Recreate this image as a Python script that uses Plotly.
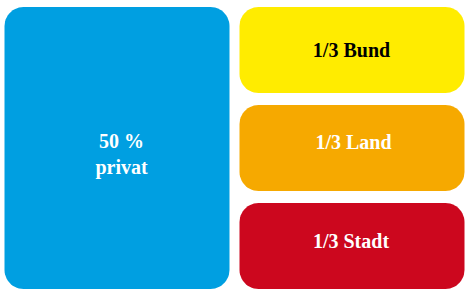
import numpy as np
import plotly.graph_objects as go

# ---- data ----
main_groups = ["privat", "öffentlich"]
main_shares = [50, 50]                      # percent of total (horizontal split)
public_parts = ["Bund", "Land", "Stadt"]
public_shares = [1 / 3, 1 / 3, 1 / 3]       # fractions of the public half (vertical split)
label_private = "50 %<br>privat"
labels_public = ["1/3 Bund", "1/3 Land", "1/3 Stadt"]

# ---- style ----
W, H = 468, 290
color_private = "#009FE1"
colors_public = ["#FFEC00", "#F6A900", "#CC071E"]
text_private = "#FFFFFF"
text_public = ["#000000", "#FFFFFF", "#FFFFFF"]
X_OFF, SX = -0.5, 4.7     # px offset, px per percent
Y_OFF, SY = 1.0, 294.0    # px offset, px per unit fraction
GX, GY = 5.0, 6.0         # half gaps in px
R = 19.0                  # corner radius in px
# small label nudges in px (dx, dy)
nudge_private = (4.5, 8.0)
nudge_public = [(-0.5, 1.7), (1.5, -4.0), (-1.0, -3.5)]

def to_px(x, y):
    return X_OFF + x * SX, Y_OFF + y * SY

def to_data(px, py):
    return (np.asarray(px) - X_OFF) / SX, (np.asarray(py) - Y_OFF) / SY

def rounded_cell(x0, x1, y0, y1):
    a0, b0 = to_px(x0, y0)
    a1, b1 = to_px(x1, y1)
    a0 += GX; a1 -= GX; b0 += GY; b1 -= GY
    pts_x, pts_y = [], []
    corners = [(a1 - R, b0 + R, -90, 0), (a1 - R, b1 - R, 0, 90),
               (a0 + R, b1 - R, 90, 180), (a0 + R, b0 + R, 180, 270)]
    for cx, cy, t0, t1 in corners:
        t = np.radians(np.linspace(t0, t1, 14))
        pts_x.extend(cx + R * np.cos(t))
        pts_y.extend(cy + R * np.sin(t))
    pts_x.append(pts_x[0]); pts_y.append(pts_y[0])
    return to_data(pts_x, pts_y)

fig = go.Figure()

x_edges = np.concatenate([[0], np.cumsum(main_shares)])
y_edges = np.concatenate([[0], np.cumsum(public_shares)])

# private cell
xs, ys = rounded_cell(x_edges[0], x_edges[1], 0, 1)
fig.add_trace(go.Scatter(x=xs, y=ys, fill="toself", fillcolor=color_private,
                         mode="lines", line=dict(width=0), hoverinfo="skip",
                         name=main_groups[0]))
# public cells
for i, part in enumerate(public_parts):
    xs, ys = rounded_cell(x_edges[1], x_edges[2], y_edges[i], y_edges[i + 1])
    fig.add_trace(go.Scatter(x=xs, y=ys, fill="toself", fillcolor=colors_public[i],
                             mode="lines", line=dict(width=0), hoverinfo="skip",
                             name=part))

# labels at cell centres
tx = [(x_edges[0] + x_edges[1]) / 2 + nudge_private[0] / SX]
ty = [0.5 + nudge_private[1] / SY]
for i in range(len(public_parts)):
    tx.append((x_edges[1] + x_edges[2]) / 2 + nudge_public[i][0] / SX)
    ty.append((y_edges[i] + y_edges[i + 1]) / 2 + nudge_public[i][1] / SY)

fig.add_trace(go.Scatter(
    x=tx, y=ty, mode="text",
    text=[label_private] + labels_public,
    textposition="middle center",
    textfont=dict(family="Liberation Serif", size=20, weight="bold",
                  color=[text_private] + text_public),
    hoverinfo="skip",
))

fig.update_layout(
    width=W, height=H,
    margin=dict(l=0, r=0, t=0, b=0),
    paper_bgcolor="#FFFFFF", plot_bgcolor="#FFFFFF",
    showlegend=False,
    xaxis=dict(range=[-X_OFF / SX, (W - X_OFF) / SX], visible=False, fixedrange=True),
    yaxis=dict(range=[(H - Y_OFF) / SY, -Y_OFF / SY], visible=False, fixedrange=True),
)

fig.write_html("out.html", config={"displayModeBar": False},
               post_script="document.body.style.margin='0';document.body.style.overflow='hidden';")
